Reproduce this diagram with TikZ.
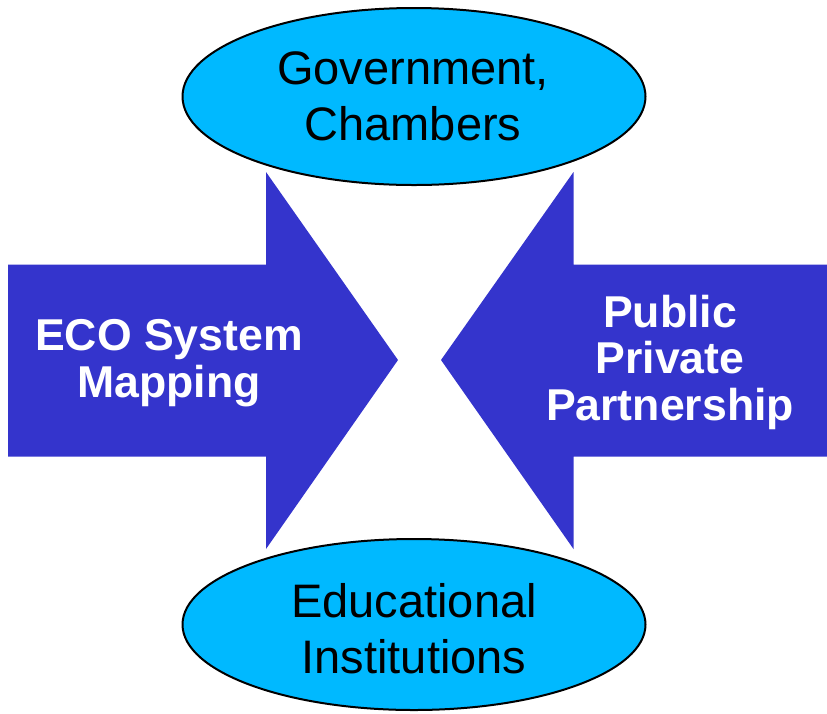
\documentclass[tikz,border=0pt]{standalone}
\usepackage{fontspec}
\setmainfont{Liberation Sans}
\usetikzlibrary{shapes.geometric}
\definecolor{arrowblue}{HTML}{3434CC}
\definecolor{ellcyan}{HTML}{00B9FF}
\begin{document}
\begin{tikzpicture}[x=1pt,y=-1pt,
  bigarrow/.style={fill=arrowblue,draw=none},
  ell/.style={ellipse,draw=black,line width=2pt,fill=ellcyan,inner sep=0pt,minimum width=463pt},
  elltext/.style={align=center,text=black,font=\fontsize{47}{55.7}\selectfont,inner sep=0pt},
  arrtext/.style={align=center,text=white,font=\fontsize{44.6}{46.5}\selectfont\bfseries,inner sep=0pt}]
\useasboundingbox (0,0) rectangle (827,713);
% arrows
\fill[bigarrow] (8,264.5) -- (266,264.5) -- (266,172) -- (398,360) -- (266,549) -- (266,456.5) -- (8,456.5) -- cycle;
\fill[bigarrow] (827,264.5) -- (573.5,264.5) -- (573.5,172) -- (441,360) -- (573.5,549) -- (573.5,456.5) -- (827,456.5) -- cycle;
% ellipses
\node[ell,minimum height=177pt] (top) at (414,96.5) {};
\node[ell,minimum height=171pt] (bot) at (414,624.5) {};
% texts
\node[elltext] (toptxt) at (413,96.6) {Government,\\Chambers};
\node[elltext] (bottxt) at (414,628.7) {Educational\\Institutions};
\node[arrtext] (lefttxt) at (169,363.2) {ECO System\\Mapping};
\node[arrtext] (righttxt) at (670,362.3) {Public\\Private\\Partnership};
\end{tikzpicture}
\end{document}
